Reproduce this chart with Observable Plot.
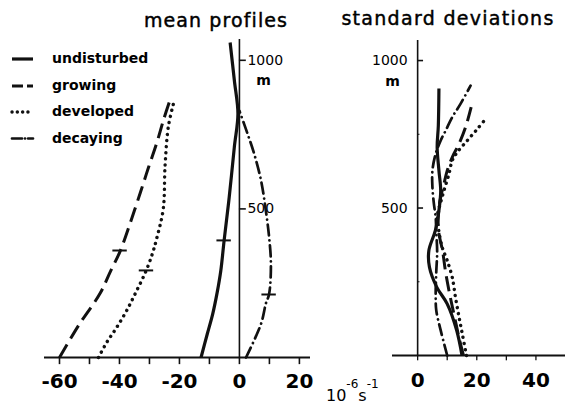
<!DOCTYPE html>
<html><head><meta charset="utf-8">
<script src="https://cdn.jsdelivr.net/npm/d3@7"></script>
<script src="https://cdn.jsdelivr.net/npm/@observablehq/plot@0.6"></script>
<style>
body{margin:0;background:#fff;}
#wrap{position:relative;width:565px;height:412px;overflow:hidden;font-family:"DejaVu Sans",sans-serif;background:#fff;}
#wrap > svg{position:absolute;top:0;}
</style></head><body><div id="wrap"></div>
<script>
// ---------- data: [height (m), value (10^-6 s^-1)] ----------
const seriesNames = ["undisturbed", "growing", "developed", "decaying"];
const meanUndisturbed = [[0,-12.8],[80,-10.7],[147,-8.9],[220,-7.4],[293,-6.2],[394,-5.1],[540,-3.4],[708,-1.7],[820,-0.5],[933,-1.7],[1060,-3.1]];
const meanGrowing = [[0,-60],[110,-53.5],[215,-46.5],[290,-43],[357,-39.8],[450,-36.5],[556,-33],[640,-30.3],[721,-27.6],[800,-25.3],[871,-23]];
const meanDeveloped = [[0,-47],[50,-44.3],[100,-41],[158,-37.6],[220,-34.5],[290,-31.2],[350,-29],[400,-27.6],[500,-25.4],[645,-24.8],[777,-23.7],[854,-22]];
const meanDecaying = [[0,2.2],[113,7.2],[181,8.8],[214,9.9],[315,10.5],[405,9.9],[495,8.8],[596,7.2],[686,4.9],[753,2.7],[830,0]];
const sdUndisturbed = [[0,15],[85,13.2],[175,10],[231,6.5],[299,4],[356,3.8],[424,6],[492,7.2],[559,7.8],[627,7.2],[706,6.6],[780,7],[905,7.2]];
const sdGrowing = [[0,15.5],[60,14],[130,12.5],[200,11],[280,9.5],[350,8.5],[430,7],[500,7.2],[537,7.8],[582,8.9],[627,10],[672,11.7],[718,14],[774,16.2],[842,18.1]];
const sdDeveloped = [[0,16.5],[73,15.1],[130,14],[197,12.8],[265,11.7],[322,10],[367,8.3],[420,7.2],[469,6.6],[520,7.8],[559,8.9],[616,10.6],[661,11.7],[689,13.4],[729,16.8],[768,20.2],[802,23]];
const sdDecaying = [[0,10],[85,7.8],[153,6.3],[205,6.1],[284,6.3],[351,6.6],[420,6.3],[469,6.1],[514,5.5],[571,5],[627,5],[684,6.1],[729,7.8],[763,9.5],[808,11.7],[853,14.5],[915,17.9]];
// short horizontal bars on the mean profiles
const barHeights = [394, 360, 293, 212];
const barValues = [-5.1, -39.8, -31.0, 9.9];
// axes
const meanXTicks = [-60,-50,-40,-30,-20,-10,0,10,20];
const meanXLabels = [-60,-40,-20,0,20];
const sdXTicks = [0,10,20,30,40];
const sdXLabels = [0,20,40];
const yLabels = [500, 1000];
const sdYMinor = [250, 750];
const yUnit = "m";
const titles = ["mean profiles", "standard deviations"];

// ---------- styles ----------
const INK = "#111";
const styles = {
  undisturbed: {strokeWidth: 3.2, strokeDasharray: null, strokeLinecap: "butt"},
  growing:     {strokeWidth: 3, strokeDasharray: "15,7", strokeLinecap: "butt"},
  developed:   {strokeWidth: 3.4, strokeDasharray: "0.1,6", strokeLinecap: "round"},
  decaying:    {strokeWidth: 2.7, strokeDasharray: "11,5,0.1,5", strokeLinecap: "round"}
};
const rows = (arr) => arr.map(([h, v]) => ({h, v}));
const lineMarks = (sets) => sets.map((arr, i) => {
  const st = styles[seriesNames[i]];
  return Plot.line(rows(arr), {x: "v", y: "h", curve: "catmull-rom", stroke: INK,
    strokeWidth: st.strokeWidth, strokeDasharray: st.strokeDasharray || undefined,
    strokeLinecap: st.strokeLinecap, strokeLinejoin: "round"});
});
const fmt = d => d < 0 ? "-" + Math.abs(d) : String(d);
const base = {fontFamily: "DejaVu Sans", fill: "#000"};

const left = Plot.plot({
  width: 330, height: 412,
  marginLeft: 44, marginRight: 20, marginTop: 39, marginBottom: 55,
  x: {domain: [-65, 23.7], axis: null},
  y: {domain: [0, 1070], axis: null},
  style: {background: "transparent", overflow: "visible"},
  marks: [
    Plot.ruleY([0], {stroke: INK, strokeWidth: 2}),
    Plot.ruleX([0], {stroke: INK, strokeWidth: 1.6}),
    Plot.ruleX(meanXTicks, {x: d => d, y1: 0, y2: -24, stroke: INK, strokeWidth: 1.6}),
    Plot.text(meanXLabels, {...base, x: d => d, y: 0, dy: 24, text: fmt, fontSize: 20, fontWeight: "bold"}),
    Plot.ruleY(yLabels, {y: d => d, x1: 0, x2: 2.3, stroke: INK, strokeWidth: 1.6}),
    Plot.text(yLabels, {...base, x: 0, y: d => d, dx: 8, text: d => String(d), textAnchor: "start", fontSize: 14}),
    Plot.text([yUnit], {...base, x: 0, y: 1000, dx: 24, dy: 20, text: d => d, fontSize: 14, fontWeight: "bold"}),
    ...lineMarks([meanUndisturbed, meanGrowing, meanDeveloped, meanDecaying]),
    Plot.ruleY(barHeights.map((h, i) => ({h, v: barValues[i]})), {y: "h", x1: d => d.v - 2.4, x2: d => d.v + 2.4, stroke: INK, strokeWidth: 2})
  ]
});
left.style.left = "0px";

const right = Plot.plot({
  width: 235, height: 412,
  marginLeft: 62, marginRight: 0, marginTop: 40, marginBottom: 57,
  x: {domain: [-8.5, 50], axis: null},
  y: {domain: [0, 1068], axis: null},
  style: {background: "transparent", overflow: "visible"},
  marks: [
    Plot.ruleY([0], {stroke: INK, strokeWidth: 2}),
    Plot.ruleX([0], {stroke: INK, strokeWidth: 1.6}),
    Plot.ruleX(sdXTicks, {x: d => d, y1: 0, y2: -18, stroke: INK, strokeWidth: 1.3}),
    Plot.text(sdXLabels, {...base, x: d => d, y: 0, dy: 25, text: fmt, fontSize: 20, fontWeight: "bold"}),
    Plot.ruleY(yLabels, {y: d => d, x1: 0, x2: 2, stroke: INK, strokeWidth: 1.6}),
    Plot.ruleY(sdYMinor, {y: d => d, x1: 0, x2: 0.8, stroke: INK, strokeWidth: 1}),
    Plot.text(yLabels, {...base, x: 0, y: d => d, dx: -10, text: d => String(d), textAnchor: "end", fontSize: 14}),
    Plot.text([yUnit], {...base, x: 0, y: 1000, dx: -25, dy: 21, text: d => d, fontSize: 14, fontWeight: "bold"}),
    ...lineMarks([sdUndisturbed, sdGrowing, sdDeveloped, sdDecaying])
  ]
});
right.style.left = "330px";

const wrap = document.getElementById("wrap");
wrap.appendChild(left);
wrap.appendChild(right);

// ---------- overlay: titles, legend, unit ----------
const ov = d3.select(wrap).append("svg").attr("width", 565).attr("height", 412)
  .style("left", "0px").style("pointer-events", "none")
  .attr("font-family", "DejaVu Sans");
ov.append("text").attr("x", 216).attr("y", 27).attr("text-anchor", "middle")
  .attr("font-size", 19).attr("letter-spacing", 1.1)
  .attr("stroke", "#000").attr("stroke-width", 0.45).text(titles[0]);
ov.append("text").attr("x", 448).attr("y", 25).attr("text-anchor", "middle")
  .attr("font-size", 19).attr("letter-spacing", 1.3)
  .attr("stroke", "#000").attr("stroke-width", 0.45).text(titles[1]);

const legY = [63, 90, 116, 142.5];
const legSample = {undisturbed: "none", growing: "11,4,6,100", developed: "0.1,5.2", decaying: "10,3,0.1,3,8,100"};
seriesNames.forEach((name, i) => {
  const st = styles[name];
  ov.append("line").attr("x1", 12).attr("x2", 33).attr("y1", legY[i] - 4).attr("y2", legY[i] - 4)
    .attr("stroke", INK).attr("stroke-width", st.strokeWidth)
    .attr("stroke-dasharray", legSample[name]).attr("stroke-linecap", st.strokeLinecap);
  ov.append("text").attr("x", 52).attr("y", legY[i]).attr("font-size", 14)
    .attr("font-weight", "bold").text(name);
});

const unit = ov.append("text").attr("x", 326).attr("y", 401).attr("font-size", 16);
unit.append("tspan").text("10");
unit.append("tspan").attr("dy", -13).attr("font-size", 12).text("-6");
unit.append("tspan").attr("dy", 13).text("s");
unit.append("tspan").attr("dy", -13).attr("font-size", 12).text("-1");
</script></body></html>
